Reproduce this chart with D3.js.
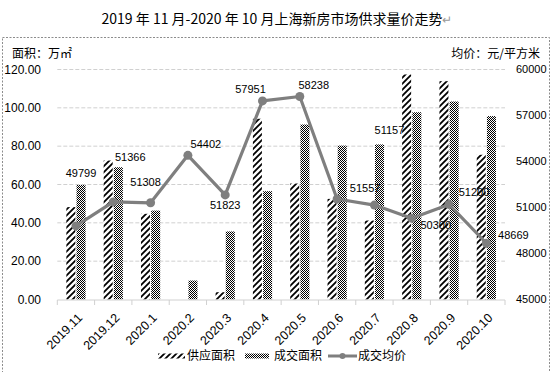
<!DOCTYPE html>
<html>
<head>
<meta charset="utf-8">
<script src="https://cdn.jsdelivr.net/npm/d3@7/dist/d3.min.js"></script>
<style>
  body { margin: 0; background: #fff; }
  text { font-family: "Liberation Sans", Arial, "Noto Sans CJK SC", sans-serif; }
  .cjk { font-family: "Noto Sans CJK SC", "Liberation Sans", sans-serif; }
</style>
</head>
<body>
<script>
var categories = ["2019.11", "2019.12", "2020.1", "2020.2", "2020.3", "2020.4", "2020.5", "2020.6", "2020.7", "2020.8", "2020.9", "2020.10"];
var supplyArea = [48.2, 72.5, 44.7, 0, 3.8, 94.3, 60.5, 52.5, 41.2, 117.4, 113.9, 75.5];
var dealArea = [59.8, 69.0, 46.4, 9.9, 35.5, 56.5, 91.3, 80.3, 80.9, 97.7, 103.3, 95.7];
var avgPrice = [49799, 51366, 51308, 54402, 51823, 57951, 58238, 51557, 51157, 50300, 51200, 48669];
var leftTicks = [0, 20, 40, 60, 80, 100, 120];
var rightTicks = [45000, 48000, 51000, 54000, 57000, 60000];
// label nudges (px), the labels in the source were dragged by hand
var labelShift = [[5, -53], [17, -45], [-5, -21], [18, -11], [0, 10], [-12, -12], [14, -11], [28, -11], [15, -75], [24, 7], [25, -12], [27, -8]];

var W = 556, H = 372;
var svg = d3.select("body").append("svg").attr("width", W).attr("height", H);

var defs = svg.append("defs");
var hatch = defs.append("pattern").attr("id", "hatch")
  .attr("patternUnits", "userSpaceOnUse").attr("width", 6).attr("height", 6);
hatch.append("rect").attr("width", 6).attr("height", 6).attr("fill", "#fff");
hatch.append("path").attr("d", "M-1,7 L7,-1 M-4,4 L4,-4 M2,10 L10,2")
  .attr("stroke", "#000").attr("stroke-width", 1.8);

var check = defs.append("pattern").attr("id", "check")
  .attr("patternUnits", "userSpaceOnUse").attr("width", 2).attr("height", 2);
check.append("rect").attr("width", 2).attr("height", 2).attr("fill", "#fff");
check.append("rect").attr("width", 1).attr("height", 1).attr("fill", "#000");
check.append("rect").attr("x", 1).attr("y", 1).attr("width", 1).attr("height", 1).attr("fill", "#000");

// title
var title = svg.append("text").attr("class", "cjk")
  .attr("x", 277).attr("y", 24).attr("text-anchor", "middle")
  .attr("font-size", 14).attr("fill", "#000");
title.append("tspan").text("2019 年 11 月-2020 年 10 月上海新房市场供求量价走势");
title.append("tspan").attr("fill", "#999").attr("font-size", 12).text("↵");

// frame
svg.append("rect").attr("x", 2.5).attr("y", 37.5).attr("width", 547).attr("height", 340)
  .attr("fill", "none").attr("stroke", "#8c8c8c").attr("stroke-dasharray", "2,1.5");

var plotL = 57.3, plotR = 505, plotT = 69.5, plotB = 299.5;

var x = d3.scaleBand().domain(categories).range([plotL, plotR]).padding(0);
var yL = d3.scaleLinear().domain([0, 120]).range([plotB, plotT]);
var yR = d3.scaleLinear().domain([45000, 60000]).range([plotB, plotT]);

// grid
svg.append("g").selectAll("line").data(leftTicks.slice(1)).join("line")
  .attr("x1", plotL).attr("x2", plotR)
  .attr("y1", function (d) { return yL(d); }).attr("y2", function (d) { return yL(d); })
  .attr("stroke", "#d0d0d0").attr("stroke-dasharray", "4,2");

// left axis labels
svg.append("g").selectAll("text").data(leftTicks).join("text")
  .attr("x", 41).attr("y", function (d) { return yL(d); }).attr("dy", "0.35em")
  .attr("text-anchor", "end").attr("font-size", 12).attr("fill", "#000")
  .text(function (d) { return d3.format(".2f")(d); });

// right axis labels
svg.append("g").selectAll("text").data(rightTicks).join("text")
  .attr("x", 516).attr("y", function (d) { return yR(d); }).attr("dy", "0.35em")
  .attr("text-anchor", "start").attr("font-size", 11).attr("fill", "#000")
  .text(function (d) { return d; });

svg.append("text").attr("class", "cjk").attr("x", 12).attr("y", 58)
  .attr("font-size", 12).attr("fill", "#000").text("面积：万㎡");
svg.append("text").attr("class", "cjk").attr("x", 540).attr("y", 58)
  .attr("text-anchor", "end").attr("font-size", 12).attr("fill", "#000").text("均价：元/平方米");

// bars
var bw = 9, gap = 1.2;
var bars = svg.append("g");
bars.selectAll("rect.s").data(supplyArea).join("rect").attr("class", "s")
  .attr("x", function (d, i) { return x(categories[i]) + x.bandwidth() / 2 - gap / 2 - bw; })
  .attr("y", function (d) { return yL(d); })
  .attr("width", bw).attr("height", function (d) { return plotB - yL(d); })
  .attr("fill", "url(#hatch)");
bars.selectAll("rect.d").data(dealArea).join("rect").attr("class", "d")
  .attr("x", function (d, i) { return x(categories[i]) + x.bandwidth() / 2 + gap / 2; })
  .attr("y", function (d) { return yL(d); })
  .attr("width", bw).attr("height", function (d) { return plotB - yL(d); })
  .attr("fill", "url(#check)");

// x axis
var xAxis = svg.append("g");
xAxis.append("line").attr("x1", plotL).attr("x2", plotR).attr("y1", plotB + 0.5).attr("y2", plotB + 0.5)
  .attr("stroke", "#d0d0d0");
xAxis.selectAll("line.t").data(categories.concat(["end"])).join("line").attr("class", "t")
  .attr("x1", function (d, i) { return plotL + i * x.bandwidth(); })
  .attr("x2", function (d, i) { return plotL + i * x.bandwidth(); })
  .attr("y1", plotB + 0.5).attr("y2", plotB + 5.5).attr("stroke", "#d0d0d0");
xAxis.selectAll("text").data(categories).join("text")
  .attr("transform", function (d) {
    return "translate(" + (x(d) + x.bandwidth() / 2 + 4) + "," + (plotB + 16) + ") rotate(-45)";
  })
  .attr("text-anchor", "end").attr("dy", "0.35em").attr("font-size", 12.5).attr("fill", "#000")
  .text(function (d) { return d; });

// price line
var line = d3.line()
  .x(function (d, i) { return x(categories[i]) + x.bandwidth() / 2; })
  .y(function (d) { return yR(d); });
svg.append("path").datum(avgPrice).attr("d", line)
  .attr("fill", "none").attr("stroke", "#7f7f7f").attr("stroke-width", 3.2).attr("stroke-linejoin", "round");
svg.append("g").selectAll("circle").data(avgPrice).join("circle")
  .attr("cx", function (d, i) { return x(categories[i]) + x.bandwidth() / 2; })
  .attr("cy", function (d) { return yR(d); })
  .attr("r", 4.5).attr("fill", "#7f7f7f");
svg.append("g").selectAll("text").data(avgPrice).join("text")
  .attr("x", function (d, i) { return x(categories[i]) + x.bandwidth() / 2 + labelShift[i][0]; })
  .attr("y", function (d, i) { return yR(d) + labelShift[i][1]; })
  .attr("dy", "0.35em").attr("text-anchor", "middle").attr("font-size", 11).attr("fill", "#000")
  .text(function (d) { return d; });

// legend
var lg = svg.append("g").attr("transform", "translate(0,356)");
lg.append("rect").attr("x", 158).attr("y", -2.5).attr("width", 27).attr("height", 5).attr("fill", "url(#hatch)");
lg.append("text").attr("class", "cjk").attr("x", 187).attr("dy", "0.35em").attr("font-size", 12).text("供应面积");
lg.append("rect").attr("x", 245).attr("y", -2.5).attr("width", 24).attr("height", 5).attr("fill", "url(#check)");
lg.append("text").attr("class", "cjk").attr("x", 274).attr("dy", "0.35em").attr("font-size", 12).text("成交面积");
lg.append("line").attr("x1", 328).attr("x2", 357).attr("stroke", "#7f7f7f").attr("stroke-width", 3);
lg.append("circle").attr("cx", 342.5).attr("r", 3).attr("fill", "#7f7f7f");
lg.append("text").attr("class", "cjk").attr("x", 358).attr("dy", "0.35em").attr("font-size", 12).text("成交均价");
</script>
</body>
</html>
